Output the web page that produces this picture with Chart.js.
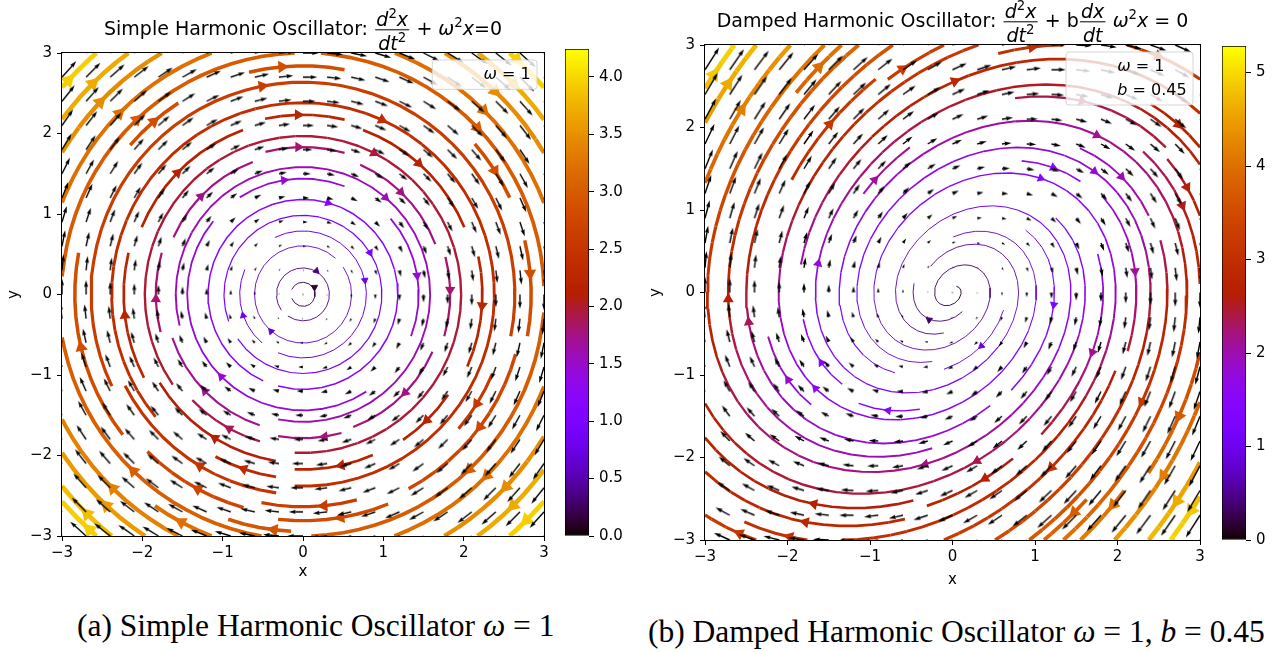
<!DOCTYPE html>
<html lang="fr">
<head>
<meta charset="UTF-8">
<title>Oscillateurs harmoniques</title>
<script src="https://cdn.jsdelivr.net/npm/chart.js"></script>
<style>
    html, body { margin: 0; padding: 0; background: #fff; }
    body { width: 1281px; height: 652px; position: relative; overflow: hidden; }
    canvas { position: absolute; top: 0; }
    .sousTitre { position: absolute; font-family: "Liberation Serif", serif; font-size: 31.5px; line-height: 32px; white-space: nowrap; color: #000; }
</style>
</head>
<body>
<canvas id="grapheSimple" width="640" height="600" style="left:0"></canvas>
<canvas id="barreSimple" width="100" height="600" style="left:540px"></canvas>
<canvas id="grapheAmorti" width="641" height="600" style="left:640px"></canvas>
<canvas id="barreAmorti" width="81" height="600" style="left:1200px"></canvas>
<div class="sousTitre" style="left:77px; top:610px">(a) Simple Harmonic Oscillator <i>ω</i> = 1</div>
<div class="sousTitre" style="left:648px; top:616px">(b) Damped Harmonic Oscillator <i>ω</i> = 1, <i>b</i> = 0.45</div>
<script>

    // ---------- données ----------
    const ticksAxes = [-3, -2, -1, 0, 1, 2, 3];
    // grille du champ (flèches noires et lignes de courant)
    const valeursGrille = [-3.0, -2.7, -2.4, -2.1, -1.8, -1.5, -1.2, -0.9, -0.6, -0.3, 0.0,
                           0.3, 0.6, 0.9, 1.2, 1.5, 1.8, 2.1, 2.4, 2.7, 3.0];
    const omegaSimple = 1;
    const omegaAmorti = 1;
    const bAmorti = 0.45;
    const ticksBarreSimple = [0.0, 0.5, 1.0, 1.5, 2.0, 2.5, 3.0, 3.5, 4.0];
    const ticksBarreAmorti = [0, 1, 2, 3, 4, 5];

    const police = '"DejaVu Sans"';
    const TRAIT_MAX = 5.2;     // px, largeur de la ligne la plus rapide
    const RAYON_FLECHE = 3.7;  // px, tête de flèche des lignes de courant

    // champ : x' = y , y' = -w^2 x + b y
    let champVecteurs = (omega, b) => ({
        U: valeursGrille.map(y => valeursGrille.map(x => y)),
        V: valeursGrille.map(y => valeursGrille.map(x => -omega * omega * x + b * y))
    });

    // palette gnuplot (256 niveaux)
    let gnuplot = t => {
        t = Math.min(1, Math.max(0, t));
        const k = Math.min(255, Math.floor(t * 256));
        const x = k / 255;
        const b = Math.min(1, Math.max(0, Math.sin(2 * Math.PI * x)));
        return [Math.sqrt(x), x * x * x, b];
    };
    let cssCouleur = c => `rgb(${Math.round(c[0] * 255)},${Math.round(c[1] * 255)},${Math.round(c[2] * 255)})`;

    let interpGrille = (a, xi, yi) => {
        const Ny = a.length, Nx = a[0].length;
        const x = Math.trunc(xi), y = Math.trunc(yi);
        const xn = x === Nx - 1 ? x : x + 1;
        const yn = y === Ny - 1 ? y : y + 1;
        const xt = xi - x, yt = yi - y;
        const a0 = a[y][x] * (1 - xt) + a[y][xn] * xt;
        const a1 = a[yn][x] * (1 - xt) + a[yn][xn] * xt;
        return a0 * (1 - yt) + a1 * yt;
    };

    let arrondiPy = v => {
        const f = Math.floor(v), d = v - f;
        if (d > 0.5) return f + 1;
        if (d < 0.5) return f;
        return f % 2 === 0 ? f : f + 1;
    };

    function* pointsDepart(ny, nx) {
        let xfirst = 0, yfirst = 1, xlast = nx - 1, ylast = ny - 1, x = 0, y = 0, dir = 'right';
        for (let i = 0; i < nx * ny; i++) {
            yield [x, y];
            if (dir === 'right') { x += 1; if (x >= xlast) { xlast -= 1; dir = 'up'; } }
            else if (dir === 'up') { y += 1; if (y >= ylast) { ylast -= 1; dir = 'left'; } }
            else if (dir === 'left') { x -= 1; if (x <= xfirst) { xfirst += 1; dir = 'down'; } }
            else { y -= 1; if (y <= yfirst) { yfirst += 1; dir = 'right'; } }
        }
    }

    // lignes de courant, même démarche que streamplot de matplotlib
    let lignesCourant = (xs, ys, U, V, densite) => {
        const nx = xs.length, ny = ys.length;
        const dx = xs[1] - xs[0], dy = ys[1] - ys[0];
        const mnx = Math.floor(30 * densite), mny = Math.floor(30 * densite);
        const masque = Array.from({length: mny}, () => new Array(mnx).fill(0));
        const g2mX = (mnx - 1) / (nx - 1), g2mY = (mny - 1) / (ny - 1);
        const m2gX = 1 / g2mX, m2gY = 1 / g2mY;
        const ug = U.map(r => r.map(v => v * (1 / dx)));
        const vg = V.map(r => r.map(v => v * (1 / dy)));
        const vit = ug.map((r, j) => r.map((u, i) => Math.hypot(u / (nx - 1), vg[j][i] / (ny - 1))));
        const HORS = {e: 'hors'}, FIN = {e: 'fin'}, PRIS = {e: 'pris'};
        const minlength = 0.1, maxlength = 4.0;
        const maxds = Math.min(1 / mnx, 1 / mny, 0.1);
        let courant = null, traj = [];

        const dansGrille = (xi, yi) => xi >= 0 && xi <= nx - 1 && yi >= 0 && yi <= ny - 1;
        const grille2masque = (xi, yi) => [arrondiPy(xi * g2mX), arrondiPy(yi * g2mY)];
        const majMasque = (xm, ym) => {
            if (!courant || courant[0] !== xm || courant[1] !== ym) {
                if (masque[ym][xm] === 0) {
                    traj.push([ym, xm]);
                    masque[ym][xm] = 1;
                    courant = [xm, ym];
                } else {
                    throw PRIS;
                }
            }
        };
        const majTrajectoire = (xi, yi) => {
            if (!dansGrille(xi, yi)) throw PRIS;
            const [xm, ym] = grille2masque(xi, yi);
            majMasque(xm, ym);
        };
        const avant = (xi, yi) => {
            if (!dansGrille(xi, yi)) throw HORS;
            const dsdt = interpGrille(vit, xi, yi);
            if (dsdt === 0) throw FIN;
            const dtds = 1 / dsdt;
            return [interpGrille(ug, xi, yi) * dtds, interpGrille(vg, xi, yi) * dtds];
        };
        const arriere = (xi, yi) => {
            const [a, b] = avant(xi, yi);
            return [-a, -b];
        };
        const pasEuler = (pts, f) => {
            const [xi, yi] = pts[pts.length - 1];
            const [cx, cy] = f(xi, yi);
            const dsx = cx === 0 ? Infinity : (cx < 0 ? xi / -cx : (nx - 1 - xi) / cx);
            const dsy = cy === 0 ? Infinity : (cy < 0 ? yi / -cy : (ny - 1 - yi) / cy);
            const ds = Math.min(dsx, dsy);
            pts.push([xi + cx * ds, yi + cy * ds]);
            return ds;
        };
        const rk12 = (x0, y0, f) => {
            const maxerror = 0.003;
            let ds = maxds, stotal = 0, xi = x0, yi = y0;
            const pts = [];
            while (true) {
                let k1, k2;
                try {
                    if (dansGrille(xi, yi)) pts.push([xi, yi]); else throw HORS;
                    k1 = f(xi, yi);
                    k2 = f(xi + ds * k1[0], yi + ds * k1[1]);
                } catch (e) {
                    if (e === HORS) {
                        if (pts.length) stotal += pasEuler(pts, f);
                        break;
                    }
                    if (e === FIN) break;
                    throw e;
                }
                const dx1 = ds * k1[0], dy1 = ds * k1[1];
                const dx2 = ds * 0.5 * (k1[0] + k2[0]), dy2 = ds * 0.5 * (k1[1] + k2[1]);
                const err = Math.hypot((dx2 - dx1) / (nx - 1), (dy2 - dy1) / (ny - 1));
                if (err < maxerror) {
                    xi += dx2;
                    yi += dy2;
                    try { majTrajectoire(xi, yi); } catch (e) { if (e === PRIS) break; throw e; }
                    if (stotal + ds > maxlength) break;
                    stotal += ds;
                }
                ds = err === 0 ? maxds : Math.min(maxds, 0.85 * ds * Math.sqrt(maxerror / err));
            }
            return [stotal, pts];
        };
        const integre = (x0, y0) => {
            let stotal = 0, pts = [];
            try {
                const [xm, ym] = grille2masque(x0, y0);
                traj = [];
                majMasque(xm, ym);
            } catch (e) { if (e === PRIS) return null; throw e; }
            let [s, p] = rk12(x0, y0, arriere);
            stotal += s;
            pts = pts.concat(p.slice().reverse());
            courant = grille2masque(x0, y0);
            [s, p] = rk12(x0, y0, avant);
            stotal += s;
            pts = pts.concat(p.slice(1));
            if (stotal > minlength) return pts;
            traj.forEach(([y, x]) => { masque[y][x] = 0; });
            return null;
        };

        const trajectoires = [];
        for (const [xm, ym] of pointsDepart(mny, mnx)) {
            if (masque[ym][xm] === 0) {
                const t = integre(xm * m2gX, ym * m2gY);
                if (t) trajectoires.push(t);
            }
        }
        // grille -> données
        return trajectoires.map(t => t.map(([gx, gy]) => ({
            gx, gy, x: gx / (1 / dx) + xs[0], y: gy / (1 / dy) + ys[0]
        })));
    };

    // flèche de quiver (forme matplotlib), dessinée dans un petit canvas
    let flecheQuiver = (L, w, angle) => {
        let X, Y;
        if (L < 1) {
            X = []; Y = [];
            for (let k = 0; k < 8; k++) { X.push(Math.cos(k * Math.PI / 3) * 0.5); Y.push(Math.sin(k * Math.PI / 3) * 0.5); }
        } else if (L < 5) {
            const s = L / 5;
            X = [0, 0.5, 0, 5, 0, 0.5, 0, 0].map(v => v * s);
            Y = [0.5, 0.5, 1.5, 0, -1.5, -0.5, -0.5, 0.5].map(v => v * s);
        } else {
            X = [0, L - 4.5, L - 5, L, L - 5, L - 4.5, 0, 0];
            Y = [0.5, 0.5, 1.5, 0, -1.5, -0.5, -0.5, 0.5];
        }
        const demi = Math.ceil(Math.max(L, 2) * w) + 3;
        const c = document.createElement('canvas');
        c.width = c.height = 2 * demi;
        const g = c.getContext('2d');
        g.translate(demi, demi);
        g.rotate(-angle);
        g.beginPath();
        X.forEach((xv, k) => g.lineTo(xv * w, -Y[k] * w));
        g.closePath();
        g.fillStyle = '#000';
        g.fill();
        return c;
    };

    // texte « mathtext » simple : morceaux, exposants, fractions
    let mesure = (ctx, txt, taille, it) => {
        ctx.font = (it ? 'italic ' : '') + taille + 'px ' + police;
        return ctx.measureText(txt).width;
    };
    let largeurMorceau = (ctx, m, t) => {
        if (m.frac) return Math.max(largeurMorceaux(ctx, m.frac.num, t), largeurMorceaux(ctx, m.frac.den, t)) + 0.24 * t;
        if (m.sup !== undefined) return mesure(ctx, m.sup, t * 0.7, false);
        return mesure(ctx, m.t, t, m.i);
    };
    let largeurMorceaux = (ctx, ms, t) => ms.reduce((s, m) => s + largeurMorceau(ctx, m, t), 0);
    let dessineMorceaux = (ctx, ms, x, base, t) => {
        ms.forEach(m => {
            const w = largeurMorceau(ctx, m, t);
            if (m.frac) {
                const wn = largeurMorceaux(ctx, m.frac.num, t), wd = largeurMorceaux(ctx, m.frac.den, t);
                dessineMorceaux(ctx, m.frac.num, x + (w - wn) / 2, base - 0.45 * t, t);
                dessineMorceaux(ctx, m.frac.den, x + (w - wd) / 2, base + 0.78 * t, t);
                ctx.fillRect(x + 0.06 * t, base - 0.3 * t, w - 0.12 * t, 1);
            } else if (m.sup !== undefined) {
                ctx.font = (t * 0.7) + 'px ' + police;
                ctx.fillText(m.sup, x, base - 0.42 * t);
            } else {
                ctx.font = (m.i ? 'italic ' : '') + t + 'px ' + police;
                ctx.fillText(m.t, x, base);
            }
            x += w;
        });
    };

    const decor = {
        id: 'decor',
        afterDatasetsDraw(chart, args, opts) {
            const {ctx, chartArea: a} = chart;
            ctx.save();
            ctx.strokeStyle = '#000';
            ctx.lineWidth = 1;
            ctx.strokeRect(a.left - 0.5, a.top - 0.5, a.right - a.left + 1, a.bottom - a.top + 1);

            // légende
            const t = 16, pad = 0.4 * t, hLigne = 16.5, esp = 0.45 * t;
            const lignes = opts.legende;
            const tw = Math.max(...lignes.map(l => largeurMorceaux(ctx, l, t)));
            const bw = 2 * pad + 2 * t + 0.8 * t + tw;
            const bh = 2 * pad + lignes.length * hLigne + (lignes.length - 1) * esp;
            const bx = a.right - 7 - bw, by = a.top + 7;
            ctx.beginPath();
            ctx.roundRect(bx, by, bw, bh, 3);
            ctx.fillStyle = 'rgba(255,255,255,0.8)';
            ctx.fill();
            ctx.strokeStyle = 'rgba(204,204,204,0.8)';
            ctx.stroke();
            ctx.fillStyle = '#000';
            ctx.textBaseline = 'alphabetic';
            ctx.textAlign = 'left';
            lignes.forEach((l, k) => {
                dessineMorceaux(ctx, l, bx + pad + 2.8 * t, by + pad + k * (hLigne + esp) + 13, t);
            });

            // titre
            const tt = 19;
            const w = largeurMorceaux(ctx, opts.titre, tt);
            dessineMorceaux(ctx, opts.titre, (a.left + a.right) / 2 - w / 2, opts.baseTitre, tt);
            ctx.restore();
        }
    };

    let moins = v => (v < 0 ? '\u2212' + Math.abs(v) : String(v));

    let axe = (nom, taille, padTitre, padTicks) => ({
        type: 'linear', min: -3, max: 3, bounds: 'data',
        afterBuildTicks: s => { s.ticks = ticksAxes.map(v => ({value: v})); },
        afterFit: s => { if (nom === 'x') s.height = taille; else s.width = taille; },
        ticks: { callback: v => moins(v), font: {family: 'DejaVu Sans', size: 15}, color: '#000',
                 padding: padTicks, autoSkip: false, maxRotation: 0 },
        grid: { drawOnChartArea: false, drawTicks: true, tickLength: 5, tickWidth: 1, tickColor: '#000', color: '#000' },
        border: { display: false },
        title: { display: true, text: nom, color: '#000', font: {family: 'DejaVu Sans', size: 15},
                 padding: nom === 'x' ? {top: 0, bottom: padTitre} : {top: padTitre, bottom: 0} }
    });

    let creePanneau = p => {
        const {U, V} = champVecteurs(p.omega, p.b);
        const vitesse = U.map((r, j) => r.map((u, i) => Math.hypot(u, V[j][i])));
        const vmax = Math.max(...vitesse.flat());
        const pxParUnite = p.largeurAxe / 6;

        const trajs = lignesCourant(valeursGrille, valeursGrille, U, V, 1);
        const jeux = [];
        const fleches = [], flCouleurs = [], flLargeurs = [], flRotations = [];

        trajs.forEach(t => {
            const vals = t.slice(0, -1).map(q => interpGrille(vitesse, q.gx, q.gy));
            const cols = vals.map(v => cssCouleur(gnuplot(v / vmax)));
            const lws = vals.map(v => Math.max(0.9, Math.round(TRAIT_MAX * v / vmax * 10) / 10));
            jeux.push({
                data: t.map(q => ({x: q.x, y: q.y})),
                showLine: true, pointRadius: 0, borderWidth: 1, borderColor: cols[0],
                borderCapStyle: 'butt', borderJoinStyle: 'round', clip: 0, order: 2,
                segment: {
                    borderColor: c => cols[c.p0DataIndex],
                    borderWidth: c => lws[c.p0DataIndex]
                }
            });
            // flèche au milieu de la ligne
            const s = [];
            let acc = 0;
            for (let i = 1; i < t.length; i++) { acc += Math.hypot(t[i].x - t[i - 1].x, t[i].y - t[i - 1].y); s.push(acc); }
            let n = s.findIndex(v => v >= acc / 2);
            if (n < 0) n = s.length;
            const hx = n + 1 < t.length ? (t[n].x + t[n + 1].x) / 2 : t[n].x;
            const hy = n + 1 < t.length ? (t[n].y + t[n + 1].y) / 2 : t[n].y;
            let ddx = hx - t[n].x, ddy = hy - t[n].y;
            const len = Math.hypot(ddx, ddy) || 1;
            ddx /= len; ddy /= len;
            const recul = (3 + RAYON_FLECHE) / pxParUnite;
            fleches.push({x: hx - ddx * recul, y: hy - ddy * recul});
            const k = Math.min(n, vals.length - 1);
            flCouleurs.push(cols[k]);
            flLargeurs.push(lws[k]);
            flRotations.push(Math.atan2(ddx, ddy) * 180 / Math.PI);
        });

        jeux.push({
            data: fleches, showLine: false, pointStyle: 'triangle', clip: 0, order: 1,
            pointRadius: RAYON_FLECHE,
            pointRotation: c => flRotations[c.dataIndex],
            pointBackgroundColor: c => flCouleurs[c.dataIndex],
            pointBorderColor: c => flCouleurs[c.dataIndex],
            pointBorderWidth: c => flLargeurs[c.dataIndex]
        });

        // quiver, échelle automatique comme matplotlib
        const N = valeursGrille.length * valeursGrille.length;
        const sn = Math.max(10, Math.sqrt(N));
        const amean = vitesse.flat().reduce((a, b) => a + b, 0) / N;
        const echelle = 1.8 * amean * sn;
        const largeur = 0.06 / sn;
        const wPx = largeur * p.largeurAxe;
        const ptsQuiver = [], stylesQuiver = [];
        valeursGrille.forEach((y, j) => valeursGrille.forEach((x, i) => {
            const u = U[j][i], v = V[j][i];
            ptsQuiver.push({x, y});
            stylesQuiver.push(flecheQuiver(Math.hypot(u, v) / (echelle * largeur), wPx, Math.atan2(v, u)));
        }));
        jeux.push({
            data: ptsQuiver, showLine: false, clip: 0, order: 0, pointRadius: 3,
            pointStyle: c => stylesQuiver[c.dataIndex]
        });

        new Chart(document.getElementById(p.idGraphe), {
            type: 'scatter',
            data: { datasets: jeux },
            options: {
                responsive: false, animation: false, devicePixelRatio: 1, events: [],
                layout: { padding: p.marges },
                plugins: {
                    legend: { display: false }, tooltip: { enabled: false },
                    decor: { titre: p.titre, baseTitre: p.baseTitre, legende: p.legende }
                },
                scales: {
                    x: axe('x', p.hauteurX, p.padTitreX, 3),
                    y: axe('y', p.largeurY, p.padTitreY, 5)
                }
            },
            plugins: [decor]
        });

        // barre de couleur
        new Chart(document.getElementById(p.idBarre), {
            type: 'bar',
            data: {
                labels: [''],
                datasets: [{
                    data: [vmax],
                    backgroundColor: c => {
                        const a = c.chart.chartArea;
                        if (!a) return '#000';
                        const g = c.chart.ctx.createLinearGradient(0, a.bottom, 0, a.top);
                        for (let k = 0; k <= 128; k++) g.addColorStop(k / 128, cssCouleur(gnuplot(k / 128)));
                        return g;
                    },
                    borderColor: '#000', borderWidth: 1, borderSkipped: false,
                    barPercentage: 1, categoryPercentage: 1
                }]
            },
            options: {
                responsive: false, animation: false, devicePixelRatio: 1, events: [],
                layout: { padding: p.margesBarre },
                plugins: { legend: { display: false }, tooltip: { enabled: false } },
                scales: {
                    x: { display: false },
                    y: {
                        position: 'right', min: 0, max: vmax, bounds: 'data',
                        afterBuildTicks: s => { s.ticks = p.ticksBarre.map(v => ({value: v})); },
                        afterFit: s => { s.width = p.largeurAxeBarre; },
                        ticks: { callback: v => p.formatBarre(v), font: {family: 'DejaVu Sans', size: 15},
                                 color: '#000', padding: 5, autoSkip: false },
                        grid: { drawOnChartArea: false, drawTicks: true, tickLength: 5, tickWidth: 1, tickColor: '#000', color: '#000' },
                        border: { display: false }
                    }
                }
            }
        });
    };

    const fracD2 = {frac: {num: [{t: 'd', i: 1}, {sup: '2'}, {t: 'x', i: 1}], den: [{t: 'dt', i: 1}, {sup: '2'}]}};

    creePanneau({
        idGraphe: 'grapheSimple', idBarre: 'barreSimple',
        omega: omegaSimple, b: 0,
        largeurAxe: 482,
        marges: {left: 0, top: 53, right: 96, bottom: 0},
        hauteurX: 64, largeurY: 62, padTitreX: 19, padTitreY: 5,
        baseTitre: 35,
        titre: [{t: 'Simple Harmonic Oscillator: '}, fracD2, {t: ' + '}, {t: 'ω', i: 1}, {sup: '2'}, {t: 'x', i: 1}, {t: '=0'}],
        legende: [[{t: 'ω', i: 1}, {t: ' = 1'}]],
        margesBarre: {left: 25, top: 49, right: 0, bottom: 64},
        largeurAxeBarre: 51,
        ticksBarre: ticksBarreSimple,
        formatBarre: v => v.toFixed(1)
    });

    creePanneau({
        idGraphe: 'grapheAmorti', idBarre: 'barreAmorti',
        omega: omegaAmorti, b: bAmorti,
        largeurAxe: 495,
        marges: {left: 0, top: 45, right: 81, bottom: 0},
        hauteurX: 60, largeurY: 65, padTitreX: 11, padTitreY: 7,
        baseTitre: 27,
        titre: [{t: 'Damped Harmonic Oscillator: '}, fracD2, {t: ' + b'},
                {frac: {num: [{t: 'dx', i: 1}], den: [{t: 'dt', i: 1}]}},
                {t: ' '}, {t: 'ω', i: 1}, {sup: '2'}, {t: 'x', i: 1}, {t: ' = 0'}],
        legende: [[{t: 'ω', i: 1}, {t: ' = 1'}], [{t: 'b', i: 1}, {t: ' = 0.45'}]],
        margesBarre: {left: 22, top: 46, right: 0, bottom: 60},
        largeurAxeBarre: 35,
        ticksBarre: ticksBarreAmorti,
        formatBarre: v => String(v)
    });

</script>
</body>
</html>
